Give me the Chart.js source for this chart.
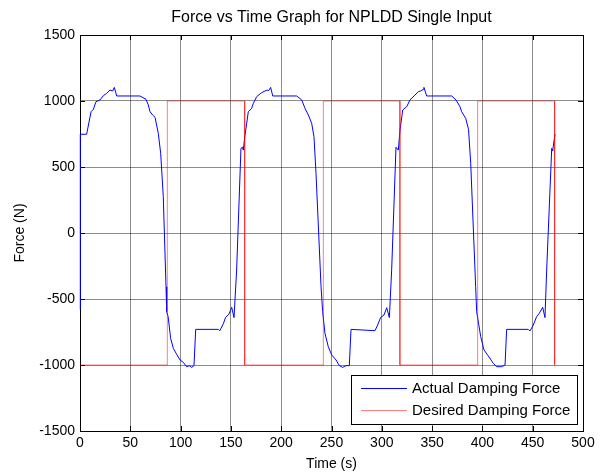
<!DOCTYPE html>
<html>
<head>
<meta charset="utf-8">
<script src="https://cdn.jsdelivr.net/npm/chart.js@4"></script>
<style>
  html, body { margin: 0; padding: 0; background: #fff; }
  #wrap { width: 600px; height: 475px; }
</style>
</head>
<body>
<div id="wrap"><canvas id="forceChart" width="600" height="475"></canvas></div>
<script>
// Actual damping force (blue)
const actualTime = [0, 0.3, 6.6, 11, 13.3, 15.9, 19.9, 23.2, 26.5, 29.8, 32.5, 34.1, 36.5, 59.6, 65.6, 67.9, 69.6, 72.2, 74.6, 77.8, 80.2, 82.8, 85.5, 86.2, 87.6, 90.1, 92.8, 96.1, 99.4, 102.7, 106, 108.7, 111, 113.3, 115, 137.5, 139, 142.4, 144.7, 148, 150.8, 153.1, 155.7, 160, 161.6, 162.3, 164, 165.7, 167.3, 170.6, 172.3, 175.6, 180.5, 183.9, 186, 187.5, 189.5, 191.6, 215.4, 220.4, 223.7, 227, 230.3, 232.6, 234.6, 239.6, 241.2, 243.5, 246.8, 250.2, 254.5, 257.8, 261.1, 264.4, 267.7, 269.4, 293.2, 295.5, 298.9, 302.2, 304.9, 307.5, 309.8, 314.1, 316.4, 318.1, 320.8, 324.8, 328, 333, 336.3, 338.6, 341.3, 341.9, 344.6, 369.5, 373.8, 377.7, 379.4, 383.4, 386.2, 388.4, 393.3, 394.3, 398.3, 401.6, 405.9, 410.8, 414.1, 419.1, 422.5, 424.1, 445.6, 447.3, 450.6, 453.9, 456.6, 459.9, 462.2, 463.9, 468.9, 469.9, 470.6, 472.2];
const actualForce = [-580, 748, 748, 919, 937, 995, 1008, 1040, 1058, 1083, 1076, 1103, 1038, 1038, 1013, 970, 919, 894, 876, 755, 604, 275, -407, -596, -634, -798, -874, -919, -962, -980, -1013, -1005, -1018, -1005, -730, -730, -740, -689, -639, -616, -563, -641, -280, 641, 650, 628, 742, 831, 919, 944, 982, 1033, 1063, 1076, 1083, 1078, 1103, 1038, 1038, 1008, 944, 894, 831, 730, 452, -407, -596, -760, -861, -924, -962, -1005, -1018, -1005, -1005, -730, -740, -704, -639, -621, -566, -641, -280, 650, 628, 780, 932, 957, 1008, 1045, 1071, 1076, 1088, 1103, 1038, 1038, 1008, 957, 919, 869, 785, 528, -407, -596, -785, -886, -932, -987, -1013, -1013, -1000, -730, -730, -742, -697, -634, -608, -563, -641, -280, 641, 622, 666, 750];

// Desired damping force (red square wave)
const desiredTime = [0, 86.8, 86.8, 163.7, 163.7, 241.9, 241.9, 318, 318, 395.3, 395.3, 471.8, 471.8];
const desiredForce = [-1000, -1000, 1000, 1000, -1000, -1000, 1000, 1000, -1000, -1000, 1000, 1000, -1000];

const xTicks = [0, 50, 100, 150, 200, 250, 300, 350, 400, 450, 500];
const yTicks = [-1500, -1000, -500, 0, 500, 1000, 1500];

const seriesNames = ['Actual Damping Force', 'Desired Damping Force'];
const blue = '#0000ff';
const red = 'rgba(255, 0, 0, 0.5)';
const font = '"Liberation Sans", Arial, sans-serif';

function toPoints(xs, ys) {
    return xs.map(function(x, i) { return { x: x, y: ys[i] }; });
}

// MATLAB style frame + inward ticks (under the lines), then texts and legend box on top
const matlabFrame = {
    id: 'matlabFrame',
    beforeDatasetsDraw: function(chart) {
        const c = chart.ctx;
        const a = chart.chartArea;
        const sx = chart.scales.x;
        const sy = chart.scales.y;
        c.save();
        c.strokeStyle = '#000';
        c.lineWidth = 1;
        c.strokeRect(Math.round(a.left) + 0.5, Math.round(a.top) + 0.5,
            Math.round(a.right - a.left), Math.round(a.bottom - a.top));

        c.beginPath();
        xTicks.forEach(function(v) {
            const px = Math.round(sx.getPixelForValue(v)) + 0.5;
            c.moveTo(px, a.bottom); c.lineTo(px, a.bottom - 5);
            c.moveTo(px, a.top); c.lineTo(px, a.top + 5);
        });
        yTicks.forEach(function(v) {
            const py = Math.round(sy.getPixelForValue(v)) + 0.5;
            c.moveTo(a.left, py); c.lineTo(a.left + 5, py);
            c.moveTo(a.right, py); c.lineTo(a.right - 5, py);
        });
        c.stroke();
        c.restore();
    },
    afterDraw: function(chart) {
        const c = chart.ctx;
        const a = chart.chartArea;
        c.save();
        c.fillStyle = '#000';
        c.textAlign = 'center';
        c.textBaseline = 'middle';
        c.font = '16px ' + font;
        c.fillText('Force vs Time Graph for NPLDD Single Input', (a.left + a.right) / 2, 18);
        c.font = '14px ' + font;
        c.fillText('Time (s)', (a.left + a.right) / 2, 464);
        c.save();
        c.translate(20, (a.top + a.bottom) / 2);
        c.rotate(-Math.PI / 2);
        c.fillText('Force (N)', 0, 0);
        c.restore();

        // legend
        const lx = 351.5, ly = 375.5, lw = 226, lh = 49;
        c.fillStyle = '#fff';
        c.fillRect(lx, ly, lw, lh);
        c.strokeStyle = '#000';
        c.lineWidth = 1;
        c.strokeRect(lx, ly, lw, lh);
        c.font = '15px ' + font;
        const rows = [[blue, 388.5], [red, 410.5]];
        rows.forEach(function(r, i) {
            c.strokeStyle = r[0];
            c.beginPath();
            c.moveTo(361, r[1]);
            c.lineTo(407, r[1]);
            c.stroke();
            c.fillStyle = '#000';
            c.textAlign = 'left';
            c.fillText(seriesNames[i], 412, r[1]);
        });
        c.restore();
    }
};

const ctx = document.getElementById('forceChart');
new Chart(ctx, {
    type: 'scatter',
    data: {
        datasets: [{
            label: seriesNames[0],
            data: toPoints(actualTime, actualForce),
            showLine: true,
            borderColor: blue,
            borderWidth: 1,
            pointRadius: 0,
            tension: 0,
            clip: 3,
            order: 1
        }, {
            label: seriesNames[1],
            data: toPoints(desiredTime, desiredForce),
            showLine: true,
            borderColor: red,
            borderWidth: 1,
            pointRadius: 0,
            tension: 0,
            clip: 3,
            order: 0
        }]
    },
    options: {
        responsive: false,
        animation: false,
        layout: { padding: { top: 35, right: 17, left: 0, bottom: 0 } },
        plugins: {
            legend: { display: false },
            title: { display: false },
            tooltip: { enabled: false }
        },
        scales: {
            x: {
                type: 'linear',
                min: 0,
                max: 500,
                afterFit: function(s) { s.height = 44; },
                afterBuildTicks: function(s) { s.ticks = xTicks.map(function(v) { return { value: v }; }); },
                ticks: {
                    color: '#000', font: { family: font, size: 14 }, padding: 4, maxRotation: 0,
                    callback: function(v) { return String(v); }
                },
                grid: { color: 'rgba(0, 0, 0, 0.45)', drawTicks: false },
                border: { display: false }
            },
            y: {
                type: 'linear',
                min: -1500,
                max: 1500,
                afterFit: function(s) { s.width = 80; },
                afterBuildTicks: function(s) { s.ticks = yTicks.map(function(v) { return { value: v }; }); },
                ticks: {
                    color: '#000', font: { family: font, size: 14 }, padding: 5,
                    callback: function(v) { return String(v); }
                },
                grid: { color: 'rgba(0, 0, 0, 0.45)', drawTicks: false },
                border: { display: false }
            }
        }
    },
    plugins: [matlabFrame]
});
</script>
</body>
</html>
